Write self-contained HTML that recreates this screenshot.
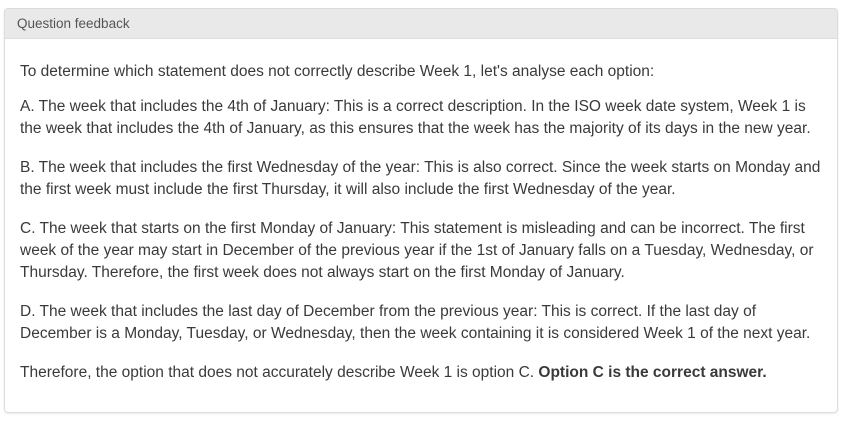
<!DOCTYPE html>
<html><head><meta charset="utf-8"><style>
body{margin:0;width:848px;height:423px;background:#fff;font-family:"Liberation Sans",sans-serif;}
.panel{position:absolute;left:4px;top:8px;width:834px;height:405px;border:1px solid #dcdcdc;border-radius:4px;box-sizing:border-box;overflow:hidden;box-shadow:0 1px 2px rgba(0,0,0,.08);}
.hdr{height:29px;background:#e9e9e9;border-bottom:1px solid #dcdcdc;color:#555;font-size:13.5px;line-height:29px;padding-left:12px;}
.body{position:absolute;left:15px;top:1px;color:#3a3a3a;font-size:15.5px;white-space:nowrap;}
.l{position:absolute;left:0;}
</style></head><body>
<div class="panel">
<div class="hdr">Question feedback</div>
<div class="body">
<div class="l" style="top:53px">To determine which statement does not correctly describe Week 1, let's analyse each option:</div>
<div class="l" style="top:88px">A. The week that includes the 4th of January: This is a correct description. In the ISO week date system, Week 1 is</div>
<div class="l" style="top:110px">the week that includes the 4th of January, as this ensures that the week has the majority of its days in the new year.</div>
<div class="l" style="top:149px">B. The week that includes the first Wednesday of the year: This is also correct. Since the week starts on Monday and</div>
<div class="l" style="top:171px">the first week must include the first Thursday, it will also include the first Wednesday of the year.</div>
<div class="l" style="top:210px">C. The week that starts on the first Monday of January: This statement is misleading and can be incorrect. The first</div>
<div class="l" style="top:232px">week of the year may start in December of the previous year if the 1st of January falls on a Tuesday, Wednesday, or</div>
<div class="l" style="top:254px">Thursday. Therefore, the first week does not always start on the first Monday of January.</div>
<div class="l" style="top:293px">D. The week that includes the last day of December from the previous year: This is correct. If the last day of</div>
<div class="l" style="top:315px">December is a Monday, Tuesday, or Wednesday, then the week containing it is considered Week 1 of the next year.</div>
<div class="l" style="top:354px">Therefore, the option that does not accurately describe Week 1 is option C. <b>Option C is the correct answer.</b></div>
</div>
</div>
</body></html>
